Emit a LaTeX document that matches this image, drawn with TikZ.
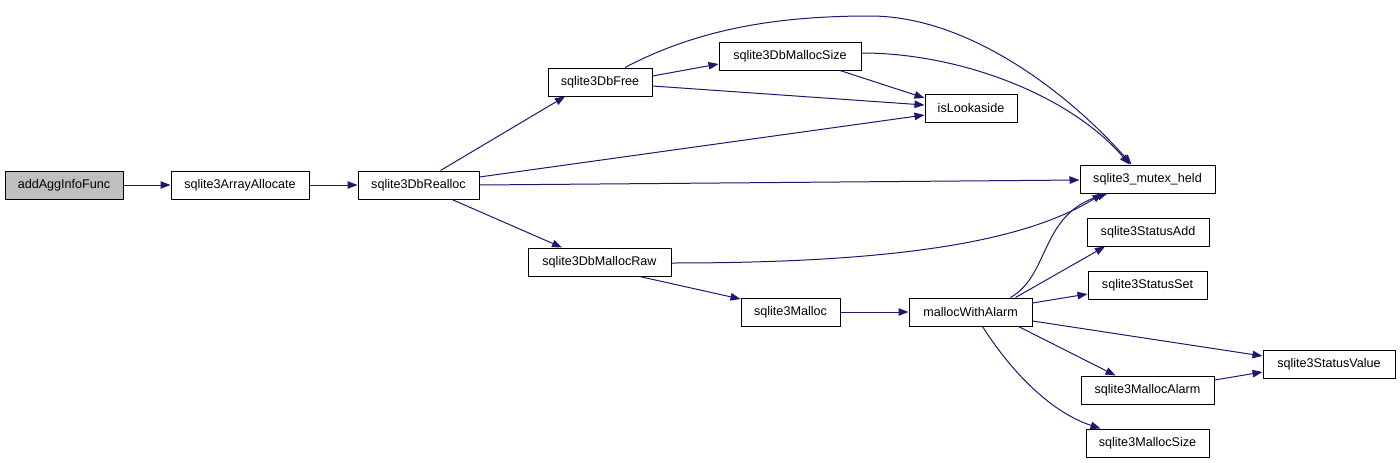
\documentclass[tikz,border=0pt]{standalone}
\usepackage{fontspec}
\setmainfont{Liberation Sans}
\usetikzlibrary{arrows.meta,calc}
\definecolor{edgeblue}{RGB}{25,25,112}
\definecolor{graybox}{RGB}{191,191,191}
\tikzset{
  fn/.style={draw=black, line width=1pt, fill=white, rectangle, inner sep=0pt,
    minimum height=28pt, font=\fontsize{12.6pt}{14pt}\selectfont},
  call/.style={draw=edgeblue, line width=1pt, -{Triangle[length=10pt,width=7.5pt]}, color=edgeblue}
}
\begin{document}
\begin{tikzpicture}[x=1pt,y=-1pt]
\useasboundingbox (0,0) rectangle (1400,463);
\fill[white] (0,0) rectangle (1400,463);
% nodes
\node[fn, fill=graybox, minimum width=118pt] (agg) at (64,185) {addAggInfoFunc};
\node[fn, minimum width=138pt] (arr) at (240,185) {sqlite3ArrayAllocate};
\node[fn, minimum width=121pt] (realloc) at (418.5,185) {sqlite3DbRealloc};
\node[fn, minimum width=104pt] (free) at (600,82) {sqlite3DbFree};
\node[fn, minimum width=142pt] (msize) at (790,56) {sqlite3DbMallocSize};
\node[fn, minimum width=92pt] (look) at (971,108) {isLookaside};
\node[fn, minimum width=135pt] (mutex) at (1147.5,179) {sqlite3\_mutex\_held};
\node[fn, minimum width=143pt] (raw) at (599.5,262) {sqlite3DbMallocRaw};
\node[fn, minimum width=99pt] (malloc) at (790.5,312) {sqlite3Malloc};
\node[fn, minimum width=123pt] (mwa) at (970.5,312) {mallocWithAlarm};
\node[fn, minimum width=122pt] (sadd) at (1148,232) {sqlite3StatusAdd};
\node[fn, minimum width=119pt] (sset) at (1147.5,285) {sqlite3StatusSet};
\node[fn, minimum width=132pt] (sval) at (1329,364) {sqlite3StatusValue};
\node[fn, minimum width=133pt] (malarm) at (1147.5,390) {sqlite3MallocAlarm};
\node[fn, minimum width=123pt] (msz) at (1147.5,443) {sqlite3MallocSize};
% edges
\draw[call] (agg.east) -- (arr.west);
\draw[call] (arr.east) -- (realloc.west);
\draw[call] ($(realloc.north)+(22,0)$) -- ($(free.south)+(-35,0)$);
\draw[call] ($(realloc.east)+(0,-8)$) -- ($(look.west)+(0,7)$);
\draw[call] (realloc.east) -- ($(mutex.west)+(0,1)$);
\draw[call] ($(realloc.south)+(33.5,0)$) -- ($(raw.north)+(-37.5,0)$);
\draw[call] ($(free.east)+(0,-6)$) -- ($(msize.west)+(0,8)$);
\draw[call] ($(free.east)+(0,4)$) -- ($(look.west)+(0,-3)$);
\draw[call] ($(free.north)+(25,0)$) .. controls (700,28) and (780,16) .. (870,16)
   .. controls (970,16) and (1070,95) .. ($(mutex.north)+(-16,0)$);
\draw[call] ($(msize.south)+(50,0)$) -- ($(look.west)+(0,-10)$);
\draw[call] ($(msize.east)+(0,-3)$) .. controls (960,53) and (1070,95) .. ($(mutex.north)+(-18,0)$);
\draw[call] ($(raw.east)+(0,1)$) .. controls (880,263) and (1020,245) .. ($(mutex.south)+(-45,0)$);
\draw[call] ($(raw.south)+(40,0)$) -- ($(malloc.west)+(0,-13)$);
\draw[call] (malloc.east) -- (mwa.west);
\draw[call] ($(mwa.north)+(40,0)$) .. controls (1050,275) and (1040,215) .. ($(mutex.south)+(-40,0)$);
\draw[call] ($(mwa.north)+(45,0)$) -- ($(sadd.south)+(-43,0)$);
\draw[call] ($(mwa.east)+(0,-9)$) -- ($(sset.west)+(0,9)$);
\draw[call] ($(mwa.east)+(0,9)$) -- ($(sval.west)+(0,-8)$);
\draw[call] ($(mwa.south)+(48,0)$) -- ($(malarm.north)+(-32,0)$);
\draw[call] ($(mwa.south)+(12,0)$) .. controls (1010,370) and (1050,412) .. ($(msz.north)+(-47,0)$);
\draw[call] ($(malarm.east)+(0,-10)$) -- ($(sval.west)+(0,8)$);
\end{tikzpicture}
\end{document}
